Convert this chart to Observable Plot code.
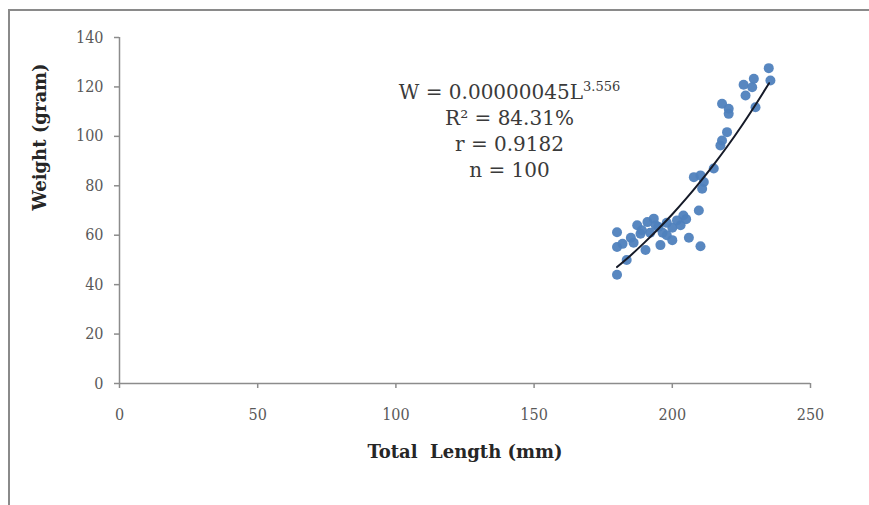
<!DOCTYPE html>
<html>
<head>
<meta charset="utf-8">
<script src="https://cdn.jsdelivr.net/npm/d3@7"></script>
<script src="https://cdn.jsdelivr.net/npm/@observablehq/plot@0.6"></script>
<style>
  html, body { margin: 0; padding: 0; background: #fff; }
  #wrap { position: relative; width: 869px; height: 505px; overflow: hidden; background: #fff; }
  #frameTop { position: absolute; left: 8px; top: 9px; width: 861px; height: 0; border-top: 2px solid #8a8a8a; }
  #frameLeft { position: absolute; left: 8px; top: 9px; width: 0; height: 496px; border-left: 2px solid #8a8a8a; }
  #chart { position: absolute; left: 0; top: 0; }
</style>
</head>
<body>
<div id="wrap">
  <div id="chart"></div>
  <div id="frameTop"></div>
  <div id="frameLeft"></div>
</div>
<script>
// ---- data ----
const lengths = [180, 180, 180, 182, 183.5, 185, 186, 187.3, 188.5, 189, 190.3, 191, 192, 193.3, 194, 195, 195.7, 196.5, 198, 198, 200, 200, 201.7, 203, 204, 205, 206, 207.8, 209.6, 210.2, 210.2, 211.4, 210.8, 215, 217.4, 218, 218, 219.8, 220.4, 220.4, 225.8, 226.5, 228.9, 229.5, 230.1, 234.9, 235.5];
const weights = [61.2, 55.2, 44, 56.5, 50, 59, 57, 64, 60.6, 62, 54, 65.3, 61, 66.7, 64, 63.3, 56, 61, 60, 65, 58, 63, 66, 64, 68, 66.5, 59, 83.5, 70, 55.5, 84.2, 81.5, 78.8, 87, 96.3, 98.3, 113.2, 101.7, 111.2, 109.1, 120.9, 116.5, 119.9, 123.3, 111.8, 127.6, 122.6];

// fitted curve as drawn (W = 0.00000045 L^3.556)
const curveLengths = [180, 185, 190, 195, 200, 205, 210, 215, 220, 225, 230, 235];
const curveWeights = [47.1, 51.9, 57.1, 62.6, 68.5, 74.8, 81.5, 88.6, 96.1, 104.1, 112.6, 121.5];

const xTicks = [0, 50, 100, 150, 200, 250];
const yTicks = [0, 20, 40, 60, 80, 100, 120, 140];

const xLabel = "Total  Length (mm)";
const yLabel = "Weight (gram)";
const annotationLines = ["W = 0.00000045L", "R\u00B2 = 84.31%", "r = 0.9182", "n = 100"];
const exponent = "3.556";

// ---- build tables ----
const points = lengths.map((L, i) => ({L, W: weights[i]}));
const curve = curveLengths.map((L, i) => ({L, W: curveWeights[i]}));

const annMarks = annotationLines.map((t, i) => Plot.text([t], {
  frameAnchor: "top-left",
  dx: 390,
  dy: 55 + 26 * i,
  textAnchor: "middle",
  lineAnchor: "middle",
  fontFamily: "DejaVu Serif",
  fontSize: 20,
  fill: "#3a3a3a"
}));

const chart = Plot.plot({
  width: 869,
  height: 505,
  marginLeft: 119,
  marginRight: 59,
  marginTop: 37,
  marginBottom: 122,
  style: {fontFamily: "'DejaVu Serif Condensed', 'DejaVu Serif', serif", fontSize: "16px", color: "#595959", background: "transparent", overflow: "visible"},
  x: {domain: [0, 250]},
  y: {domain: [0, 140]},
  marks: [
    Plot.axisX({ticks: xTicks, tickSize: 5, tickPadding: 20, label: null, stroke: "#8c8c8c", strokeWidth: 1.5, fill: "#595959"}),
    Plot.axisY({ticks: yTicks, tickSize: 5, tickPadding: 11, label: null, stroke: "#8c8c8c", strokeWidth: 1.5, fill: "#595959"}),
    Plot.ruleY([0], {stroke: "#8c8c8c", strokeWidth: 1.5}),
    Plot.ruleX([0], {stroke: "#8c8c8c", strokeWidth: 1.5}),
    Plot.dot(points, {x: "L", y: "W", r: 5, fill: "#4f81bd", fillOpacity: 0.95, stroke: "none"}),
    Plot.line(curve, {x: "L", y: "W", stroke: "#151a28", strokeWidth: 2, curve: "catmull-rom"}),
    ...annMarks,
    Plot.text([xLabel], {frameAnchor: "bottom", dy: 69, fontFamily: "DejaVu Serif", fontWeight: "bold", fontSize: 18, fill: "#262626", lineAnchor: "middle"}),
    Plot.text([yLabel], {frameAnchor: "left", dx: -79, rotate: -90, fontFamily: "DejaVu Serif", fontWeight: "bold", fontSize: 18, fill: "#262626", lineAnchor: "middle"})
  ]
});

document.getElementById("chart").appendChild(chart);

// superscript exponent on the equation line
const eq = Array.from(chart.querySelectorAll("text")).find(t => t.textContent === annotationLines[0]);
if (eq) {
  const ts = document.createElementNS("http://www.w3.org/2000/svg", "tspan");
  ts.setAttribute("dy", "-8");
  ts.setAttribute("font-size", "13");
  ts.textContent = exponent;
  eq.appendChild(ts);
}
</script>
</body>
</html>
